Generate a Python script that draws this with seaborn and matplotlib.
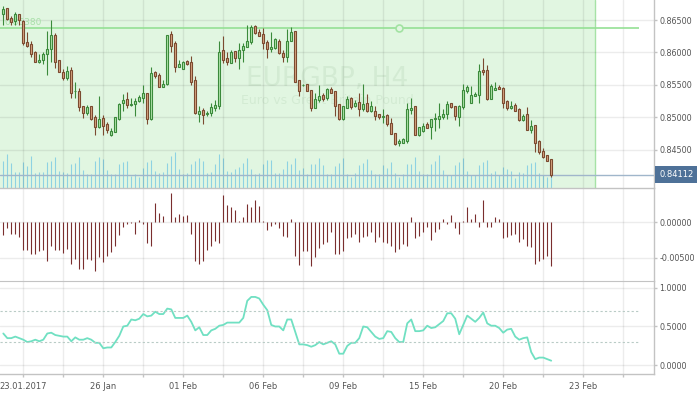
import numpy as np
import matplotlib
matplotlib.use("Agg")
import matplotlib.pyplot as plt
import seaborn as sns

# EURGBP H4 candles, 23.01.2017 - 22.02.2017
open_ = [0.8660, 0.8668, 0.8653, 0.8649, 0.8660, 0.8649, 0.8616, 0.8613, 0.8600, 0.8586,
         0.8589, 0.8597, 0.8606, 0.8627, 0.8588, 0.8570, 0.8561, 0.8573, 0.8540, 0.8541,
         0.8518, 0.8507, 0.8517, 0.8501, 0.8485, 0.8499, 0.8490, 0.8472, 0.8478, 0.8497,
         0.8522, 0.8528, 0.8519, 0.8520, 0.8525, 0.8530, 0.8538, 0.8497, 0.8570, 0.8565,
         0.8547, 0.8551, 0.8628, 0.8614, 0.8578, 0.8575, 0.8587, 0.8586, 0.8557, 0.8505,
         0.8511, 0.8505, 0.8506, 0.8515, 0.8517, 0.8604, 0.8591, 0.8584, 0.8602, 0.8592,
         0.8603, 0.8609, 0.8616, 0.8641, 0.8631, 0.8628, 0.8616, 0.8605, 0.8607, 0.8618,
         0.8599, 0.8593, 0.8618, 0.8633, 0.8557, 0.8549, 0.8551, 0.8542, 0.8515, 0.8527,
         0.8535, 0.8529, 0.8543, 0.8541, 0.8520, 0.8497, 0.8515, 0.8530, 0.8517, 0.8524,
         0.8513, 0.8522, 0.8510, 0.8510, 0.8505, 0.8501, 0.8503, 0.8491, 0.8475, 0.8460,
         0.8461, 0.8464, 0.8511, 0.8517, 0.8472, 0.8479, 0.8490, 0.8485, 0.8498, 0.8497,
         0.8501, 0.8505, 0.8522, 0.8518, 0.8501, 0.8516, 0.8541, 0.8522, 0.8533, 0.8535,
         0.8573, 0.8573, 0.8528, 0.8542, 0.8546, 0.8545, 0.8525, 0.8514, 0.8519, 0.8513,
         0.8496, 0.8505, 0.8481, 0.8488, 0.8463, 0.8448, 0.8441, 0.8435]
high = [0.8672, 0.8668, 0.8656, 0.8662, 0.8660, 0.8650, 0.8632, 0.8617, 0.8602, 0.8597,
        0.8601, 0.8633, 0.8650, 0.8630, 0.8588, 0.8574, 0.8579, 0.8578, 0.8555, 0.8545,
        0.8518, 0.8519, 0.8517, 0.8503, 0.8533, 0.8503, 0.8493, 0.8483, 0.8501, 0.8522,
        0.8536, 0.8539, 0.8530, 0.8530, 0.8534, 0.8550, 0.8538, 0.8578, 0.8572, 0.8568,
        0.8557, 0.8627, 0.8633, 0.8618, 0.8589, 0.8587, 0.8589, 0.8594, 0.8564, 0.8517,
        0.8514, 0.8509, 0.8522, 0.8527, 0.8618, 0.8625, 0.8601, 0.8604, 0.8602, 0.8615,
        0.8615, 0.8642, 0.8642, 0.8642, 0.8636, 0.8637, 0.8619, 0.8631, 0.8623, 0.8621,
        0.8604, 0.8636, 0.8639, 0.8633, 0.8557, 0.8551, 0.8551, 0.8542, 0.8537, 0.8550,
        0.8538, 0.8545, 0.8546, 0.8541, 0.8520, 0.8518, 0.8533, 0.8532, 0.8527, 0.8538,
        0.8551, 0.8536, 0.8525, 0.8517, 0.8505, 0.8513, 0.8505, 0.8499, 0.8475, 0.8467,
        0.8468, 0.8522, 0.8529, 0.8517, 0.8485, 0.8491, 0.8492, 0.8498, 0.8506, 0.8522,
        0.8513, 0.8525, 0.8522, 0.8518, 0.8519, 0.8551, 0.8550, 0.8548, 0.8539, 0.8582,
        0.8591, 0.8581, 0.8551, 0.8555, 0.8549, 0.8546, 0.8527, 0.8525, 0.8522, 0.8514,
        0.8505, 0.8516, 0.8496, 0.8488, 0.8465, 0.8452, 0.8441, 0.8435]
low = [0.8642, 0.8650, 0.8642, 0.8642, 0.8642, 0.8611, 0.8609, 0.8593, 0.8585, 0.8583,
       0.8582, 0.8565, 0.8586, 0.8576, 0.8570, 0.8558, 0.8558, 0.8530, 0.8530, 0.8510,
       0.8499, 0.8503, 0.8495, 0.8472, 0.8483, 0.8472, 0.8475, 0.8471, 0.8477, 0.8496,
       0.8510, 0.8515, 0.8517, 0.8502, 0.8523, 0.8522, 0.8490, 0.8496, 0.8561, 0.8547,
       0.8546, 0.8550, 0.8601, 0.8570, 0.8577, 0.8575, 0.8581, 0.8550, 0.8505, 0.8493,
       0.8490, 0.8502, 0.8502, 0.8510, 0.8513, 0.8584, 0.8580, 0.8584, 0.8586, 0.8575,
       0.8586, 0.8608, 0.8613, 0.8628, 0.8625, 0.8605, 0.8592, 0.8600, 0.8606, 0.8597,
       0.8586, 0.8586, 0.8617, 0.8554, 0.8533, 0.8548, 0.8540, 0.8510, 0.8514, 0.8524,
       0.8525, 0.8526, 0.8537, 0.8502, 0.8496, 0.8495, 0.8514, 0.8512, 0.8516, 0.8502,
       0.8510, 0.8508, 0.8508, 0.8495, 0.8498, 0.8491, 0.8486, 0.8474, 0.8457, 0.8456,
       0.8461, 0.8461, 0.8505, 0.8472, 0.8471, 0.8478, 0.8483, 0.8466, 0.8479, 0.8484,
       0.8498, 0.8497, 0.8514, 0.8495, 0.8487, 0.8513, 0.8537, 0.8522, 0.8533, 0.8522,
       0.8565, 0.8527, 0.8528, 0.8542, 0.8543, 0.8514, 0.8511, 0.8512, 0.8510, 0.8494,
       0.8494, 0.8480, 0.8476, 0.8447, 0.8443, 0.8437, 0.8432, 0.8408]
close = [0.8667, 0.8651, 0.8647, 0.8659, 0.8650, 0.8614, 0.8610, 0.8597, 0.8586, 0.8589,
         0.8598, 0.8606, 0.8627, 0.8586, 0.8570, 0.8561, 0.8571, 0.8538, 0.8541, 0.8516,
         0.8506, 0.8516, 0.8497, 0.8485, 0.8497, 0.8486, 0.8480, 0.8479, 0.8500, 0.8520,
         0.8527, 0.8519, 0.8521, 0.8525, 0.8531, 0.8537, 0.8497, 0.8568, 0.8564, 0.8547,
         0.8551, 0.8627, 0.8610, 0.8578, 0.8582, 0.8586, 0.8582, 0.8555, 0.8506, 0.8510,
         0.8503, 0.8506, 0.8516, 0.8519, 0.8601, 0.8589, 0.8586, 0.8601, 0.8592, 0.8604,
         0.8610, 0.8618, 0.8640, 0.8630, 0.8626, 0.8614, 0.8605, 0.8609, 0.8620, 0.8599,
         0.8593, 0.8618, 0.8631, 0.8554, 0.8540, 0.8550, 0.8540, 0.8515, 0.8528, 0.8533,
         0.8528, 0.8543, 0.8538, 0.8518, 0.8497, 0.8518, 0.8528, 0.8516, 0.8522, 0.8513,
         0.8520, 0.8509, 0.8517, 0.8502, 0.8500, 0.8502, 0.8489, 0.8474, 0.8459, 0.8464,
         0.8466, 0.8512, 0.8514, 0.8472, 0.8485, 0.8487, 0.8484, 0.8498, 0.8499, 0.8502,
         0.8505, 0.8520, 0.8516, 0.8502, 0.8517, 0.8542, 0.8546, 0.8534, 0.8536, 0.8571,
         0.8570, 0.8528, 0.8548, 0.8545, 0.8543, 0.8522, 0.8515, 0.8517, 0.8510, 0.8496,
         0.8502, 0.8481, 0.8486, 0.8461, 0.8446, 0.8438, 0.8433, 0.84112]
volume = [27, 34, 25, 16, 16, 26, 22, 32, 15, 16, 16, 26, 27, 31, 17, 16, 15, 24, 25, 31,
          18, 14, 14, 27, 31, 29, 18, 14, 14, 24, 26, 27, 12, 14, 11, 20, 26, 28, 17, 15,
          16, 25, 32, 36, 19, 14, 15, 24, 27, 30, 27, 15, 16, 24, 34, 30, 17, 16, 19, 21,
          25, 30, 19, 14, 15, 24, 28, 28, 15, 15, 19, 27, 24, 30, 18, 20, 14, 24, 24, 30,
          23, 14, 14, 22, 25, 30, 14, 11, 15, 23, 25, 29, 18, 14, 14, 23, 20, 26, 15, 11,
          14, 24, 24, 31, 17, 14, 14, 24, 27, 33, 18, 13, 13, 23, 26, 30, 17, 13, 13, 23,
          26, 28, 15, 17, 13, 21, 19, 17, 10, 16, 15, 23, 25, 26, 15, 13, 11, 13]
macd = [-0.00175, -0.0008, -0.00165, -0.00165, -0.0020, -0.0039, -0.0039, -0.0044, -0.0045, -0.0041,
        -0.0039, -0.0054, -0.0034, -0.0039, -0.0039, -0.0043, -0.0038, -0.0059, -0.0052, -0.0065,
        -0.0066, -0.0052, -0.0053, -0.0068, -0.0049, -0.0056, -0.0047, -0.0042, -0.0034, -0.0018,
        -0.0006, -0.0003, -0.0001, -0.0016, 0.0003, -0.0003, -0.0029, -0.0033, 0.0027, 0.0013,
        0.0009, 0.0001, 0.0042, 0.0008, 0.0012, 0.0009, 0.0010, -0.0017, -0.0054, -0.0058,
        -0.0054, -0.0039, -0.0034, -0.0026, -0.0029, 0.0039, 0.0024, 0.0022, 0.0018, 0.0002,
        0.0008, 0.0026, 0.0022, 0.0031, 0.0023, 0.0002, -0.0011, -0.0005, -0.0002, -0.0008,
        -0.0019, -0.0021, 0.0005, -0.0048, -0.0060, -0.0040, -0.0040, -0.0061, -0.0049, -0.0036,
        -0.0030, -0.0028, -0.0014, -0.0045, -0.0044, -0.0041, -0.0022, -0.0021, -0.0016, -0.0027,
        -0.0020, -0.0019, -0.0013, -0.0027, -0.0021, -0.0027, -0.0029, -0.0034, -0.0042, -0.0038,
        -0.0031, -0.0034, 0.0008, -0.0022, -0.0019, -0.0014, -0.0007, -0.0025, -0.0014, -0.0009,
        0.0005, -0.0002, 0.0011, -0.0008, -0.0017, 0.0002, 0.0022, 0.0005, 0.0012, -0.0007,
        0.0032, -0.0007, -0.0006, 0.0007, 0.0005, -0.0022, -0.0021, -0.0018, -0.0017, -0.0028,
        -0.0024, -0.0033, -0.0035, -0.0058, -0.0054, -0.0051, -0.0047, -0.0062]
osc = [0.41, 0.35, 0.35, 0.37, 0.35, 0.33, 0.30, 0.31, 0.33, 0.31,
       0.33, 0.41, 0.42, 0.39, 0.38, 0.37, 0.37, 0.31, 0.36, 0.33,
       0.33, 0.35, 0.33, 0.29, 0.29, 0.22, 0.23, 0.23, 0.30, 0.38,
       0.50, 0.51, 0.59, 0.58, 0.60, 0.66, 0.63, 0.64, 0.69, 0.66,
       0.66, 0.73, 0.72, 0.61, 0.61, 0.61, 0.64, 0.56, 0.45, 0.49,
       0.39, 0.39, 0.45, 0.47, 0.51, 0.52, 0.55, 0.55, 0.55, 0.55,
       0.61, 0.83, 0.88, 0.88, 0.86, 0.78, 0.71, 0.52, 0.50, 0.50,
       0.45, 0.59, 0.59, 0.43, 0.27, 0.27, 0.26, 0.24, 0.26, 0.30,
       0.27, 0.29, 0.31, 0.27, 0.15, 0.15, 0.25, 0.29, 0.29, 0.35,
       0.50, 0.49, 0.43, 0.37, 0.34, 0.35, 0.44, 0.43, 0.35, 0.30,
       0.30, 0.54, 0.59, 0.44, 0.44, 0.45, 0.51, 0.48, 0.49, 0.53,
       0.57, 0.67, 0.67, 0.60, 0.40, 0.52, 0.64, 0.60, 0.56, 0.61,
       0.68, 0.54, 0.51, 0.51, 0.48, 0.42, 0.46, 0.47, 0.37, 0.33,
       0.35, 0.36, 0.17, 0.08, 0.10, 0.10, 0.08, 0.06]

date_ticks = [5, 25, 45, 65, 85, 105, 125, 145]
date_labels = ["23.01.2017", "26 Jan", "01 Feb", "06 Feb", "09 Feb", "15 Feb", "20 Feb", "23 Feb"]
price_ticks = [0.845, 0.850, 0.855, 0.860, 0.865]
macd_ticks = [-0.005, 0.0]
osc_ticks = [0.0, 0.5, 1.0]
osc_levels = [0.3, 0.7]
level_price = 0.86380
level_end = 159
level_anchor = 99
shade_end = 148

symbol = "EURGBP, H4"
description = "Euro vs Great Britain Pound"

sns.set_style("white")
plt.rcParams["font.family"] = ["DejaVu Sans"]

bg_green = "#e1f6e1"
bull_edge, bull_fill = "#3b8a3b", "#b2e6ac"
bear_edge, bear_fill = "#7b4a30", "#d8a582"
spine_c = "#c3c3c3"
text_c = "#555555"

o = np.array(open_)
c = np.array(close)
x = np.arange(len(c))
up = c >= o
edge = np.where(up, bull_edge, bear_edge)
fill = np.where(up, bull_fill, bear_fill)
xlim = (-0.825, 162.7)

fig = plt.figure(figsize=(7, 3.94), dpi=100)
ax = fig.add_axes([0, 0.5241, 0.9343, 0.4759])
ax_macd = fig.add_axes([0, 0.2868, 0.9343, 0.2373], sharex=ax)
ax_osc = fig.add_axes([0, 0.05, 0.9343, 0.2368], sharex=ax)

# volume sits on a twin axis underneath the candles
ax_vol = ax.twinx()
ax.set_zorder(ax_vol.get_zorder() + 1)
ax.patch.set_visible(False)
ax_vol.axvspan(xlim[0], shade_end, color=bg_green, lw=0, zorder=0)
ax_vol.axvline(shade_end, color="#a6e2a6", lw=1, zorder=1)
ax_vol.vlines(x, 0, volume, color="#8ed2e2", lw=0.8, zorder=2)
ax_vol.set_ylim(0, 187.5)
ax_vol.set_yticks([])
for s in ax_vol.spines.values():
    s.set_visible(False)
ax_vol.text(0.5, 0.58, symbol, transform=ax_vol.transAxes, ha="center", va="center",
            fontsize=19, color="#d3ebd3", zorder=1)
ax_vol.text(0.5, 0.464, description, transform=ax_vol.transAxes, ha="center", va="center",
            fontsize=9, color="#d3ebd3", zorder=1)

# candles
ax.vlines(x, low, high, colors=edge, lw=0.8, zorder=3)
ax.bar(x, np.abs(c - o), bottom=np.minimum(o, c), width=0.6, color=fill,
       edgecolor=edge, lw=0.8, zorder=4)

# level line with its label and anchor
ax.hlines(level_price, xlim[0], level_end, color="#95e095", lw=1.2, zorder=2)
ax.plot([level_anchor], [level_price], "o", ms=5, mfc=bg_green, mec="#a2e2a2", mew=1.2, zorder=2)
ax.annotate(f"{level_price:.5f}", xy=(xlim[0], level_price), xytext=(3, 0.5),
            textcoords="offset points", va="bottom", fontsize=6.5, color="#a8e0a8", zorder=1)

# last price line and box
ax.axhline(close[-1], color="#a0b6cb", lw=1, zorder=2)
ax.annotate(f"{close[-1]:.5f}", xy=(1, close[-1]), xycoords=("axes fraction", "data"),
            xytext=(3.6, 0), textcoords="offset points", va="center", ha="left",
            fontsize=6, color="white", annotation_clip=False,
            bbox=dict(boxstyle="square,pad=0.5", fc="#4e7198", ec="none"))

ax.set_xlim(*xlim)
ax.set_ylim(0.83916, 0.86809)
ax.set_yticks(price_ticks)
ax.set_yticklabels([f"{t:.5f}" for t in price_ticks])

# histogram panel
ax_macd.vlines(x, 0, macd, color="#7a2e2e", lw=0.8)
ax_macd.set_ylim(-0.00826, 0.00491)
ax_macd.set_yticks(macd_ticks)
ax_macd.set_yticklabels([f"{t:.5f}" for t in macd_ticks])

# oscillator panel
sns.lineplot(x=x, y=osc, ax=ax_osc, color="#70e0c2", lw=1.3)
ax_osc.hlines(osc_levels, xlim[0], level_end, colors="#b9cbc6", linestyles=(0, (2, 2)), lw=0.8)
ax_osc.set_ylim(-0.115, 1.085)
ax_osc.set_yticks(osc_ticks)
ax_osc.set_yticklabels([f"{t:.4f}" for t in osc_ticks])

grid_x = list(range(date_ticks[0], int(xlim[1]), 10))
ax_osc.set_xticks(grid_x)
ax_osc.set_xticklabels([date_labels[date_ticks.index(t)] if t in date_ticks else "" for t in grid_x])
ax_osc.set_xlim(*xlim)

for a in (ax, ax_macd, ax_osc):
    a.yaxis.tick_right()
    a.grid(True, color="black", alpha=0.075, lw=1)
    a.set_axisbelow(True)
    a.tick_params(axis="y", right=True, length=2.5, width=1, color=spine_c, pad=1.2,
                  labelsize=5.8, labelcolor=text_c)
    for side in ("left", "top"):
        a.spines[side].set_visible(False)
    for side in ("right", "bottom"):
        a.spines[side].set_color(spine_c)
        a.spines[side].set_linewidth(1)
ax_osc.spines["top"].set_visible(True)
ax_osc.spines["top"].set_color(spine_c)
ax.tick_params(axis="x", bottom=False, labelbottom=False)
ax_macd.tick_params(axis="x", bottom=False, labelbottom=False)
ax_macd.spines["bottom"].set_visible(False)
ax_osc.tick_params(axis="x", bottom=True, length=2.5, width=1, color=spine_c, pad=3,
                   labelsize=6, labelcolor=text_c)

fig.savefig("out.png", dpi=100)
